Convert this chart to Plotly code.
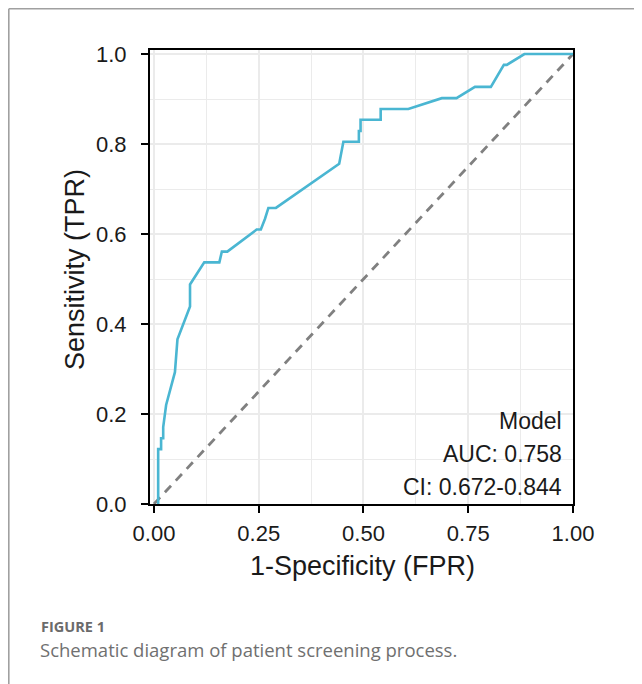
import plotly.graph_objects as go

# ROC curve points
fpr = [0.010, 0.010, 0.017, 0.017, 0.022, 0.022, 0.029, 0.050, 0.056, 0.086, 0.086,
       0.120, 0.156, 0.162, 0.175, 0.245, 0.255, 0.265, 0.273, 0.291, 0.442, 0.452,
       0.489, 0.489, 0.493, 0.493, 0.541, 0.541, 0.607, 0.687, 0.722, 0.766, 0.804,
       0.835, 0.842, 0.884, 1.000]
tpr = [0.000, 0.122, 0.122, 0.146, 0.146, 0.171, 0.220, 0.293, 0.366, 0.439, 0.488,
       0.537, 0.537, 0.561, 0.561, 0.610, 0.610, 0.634, 0.658, 0.658, 0.756, 0.805,
       0.805, 0.829, 0.829, 0.854, 0.854, 0.878, 0.878, 0.902, 0.902, 0.927, 0.927,
       0.976, 0.976, 1.000, 1.000]

ref_x = [0, 1]
ref_y = [0, 1]

x_ticks = [0, 0.25, 0.5, 0.75, 1.0]
x_tick_labels = ["0.00", "0.25", "0.50", "0.75", "1.00"]
y_ticks = [0, 0.2, 0.4, 0.6, 0.8, 1.0]
y_tick_labels = ["0.0", "0.2", "0.4", "0.6", "0.8", "1.0"]

legend_lines = ["Model", "AUC: 0.758", "CI: 0.672-0.844"]
x_title = "1-Specificity (FPR)"
y_title = "Sensitivity (TPR)"
caption_label = "FIGURE 1"
caption_text = "Schematic diagram of patient screening process."

FONT = "Liberation Sans, Arial, sans-serif"

fig = go.Figure()
fig.add_trace(go.Scatter(x=ref_x, y=ref_y, mode="lines",
                         line=dict(color="#808080", width=2.8, dash="9px,7px"),
                         hoverinfo="skip", showlegend=False))
fig.add_trace(go.Scatter(x=fpr, y=tpr, mode="lines",
                         line=dict(color="#4AB6D2", width=2.6),
                         showlegend=False))

# page offset (body margin) in the viewer
OFF = 8
W, H = 634, 676
# target screen positions of the panel box
BOX_L, BOX_R, BOX_T, BOX_B = 150, 573, 50, 504
L, T = BOX_L - OFF, BOX_T - OFF
R = W - (BOX_R - OFF)
B = H - (BOX_B - OFF)
pw, ph = W - L - R, H - T - B


def px_x(p):
    # screen px -> paper x
    return (p - OFF - L) / pw


def px_y(p):
    # screen px -> paper y
    return (H - B - (p - OFF)) / ph


axis_common = dict(
    showline=True, linecolor="black", linewidth=2, mirror=True,
    ticks="outside", ticklen=7, tickwidth=2, tickcolor="black",
    showgrid=True, gridcolor="#EBEBEB", gridwidth=2,
    zeroline=False,
    tickfont=dict(family=FONT, size=22, color="#1a1a1a"),
)

fig.update_layout(
    width=W, height=H,
    margin=dict(l=L, r=R, t=T, b=B, autoexpand=False),
    paper_bgcolor="white", plot_bgcolor="white",
    xaxis=dict(range=[-0.0095, 1.0], tickvals=x_ticks, ticktext=x_tick_labels,
               minor=dict(showgrid=True, gridcolor="#EBEBEB", gridwidth=1,
                          tickvals=[0.125, 0.375, 0.625, 0.875]),
               ticklabelstandoff=2, **axis_common),
    yaxis=dict(range=[0, 1.009], tickvals=y_ticks, ticktext=y_tick_labels,
               minor=dict(showgrid=True, gridcolor="#EBEBEB", gridwidth=1,
                          tickvals=[0.1, 0.3, 0.5, 0.7, 0.9]),
               ticklabelstandoff=10, **axis_common),
    showlegend=False,
)

# legend-like annotation lines inside the panel
for i, txt in enumerate(legend_lines):
    fig.add_annotation(text=txt, xref="paper", yref="paper",
                       x=px_x(564), y=px_y(421 + 33 * i),
                       xanchor="right", yanchor="middle", showarrow=False,
                       font=dict(family=FONT, size=23, color="#1a1a1a"))

# axis titles
fig.add_annotation(text=x_title, xref="paper", yref="paper",
                   x=px_x(362), y=px_y(566), xanchor="center", yanchor="middle",
                   showarrow=False, font=dict(family=FONT, size=27, color="#1a1a1a"))
fig.add_annotation(text=y_title, xref="paper", yref="paper",
                   x=px_x(75), y=px_y(270), xanchor="center", yanchor="middle",
                   textangle=-90, showarrow=False,
                   font=dict(family=FONT, size=27, color="#1a1a1a"))

# caption
fig.add_annotation(text="<b>" + caption_label + "</b>", xref="paper", yref="paper",
                   x=px_x(39), y=px_y(626), xanchor="left", yanchor="middle",
                   showarrow=False,
                   font=dict(family="Open Sans, sans-serif", size=14.5, color="#6b6b6b"))
fig.add_annotation(text=caption_text, xref="paper", yref="paper",
                   x=px_x(38), y=px_y(649), xanchor="left", yanchor="middle",
                   showarrow=False,
                   font=dict(family="Open Sans, sans-serif", size=18.5, color="#707070"))

# page frame (top and left rules)
fig.add_shape(type="line", xref="paper", yref="paper",
              x0=px_x(8.8), x1=px_x(OFF + W), y0=px_y(8.8), y1=px_y(8.8),
              line=dict(color="#a0a0a0", width=1.6))
fig.add_shape(type="line", xref="paper", yref="paper",
              x0=px_x(8.8), x1=px_x(8.8), y0=px_y(8.8), y1=px_y(OFF + H),
              line=dict(color="#a0a0a0", width=1.6))

fig.write_html("out.html")
